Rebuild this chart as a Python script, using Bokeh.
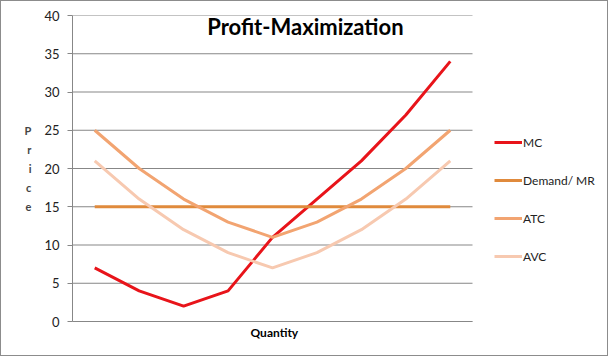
from bokeh.plotting import figure
from bokeh.models import Legend, LegendItem, Label, FixedTicker, Range1d, Title
from bokeh.embed import file_html
from bokeh.resources import INLINE

quantity = [1, 2, 3, 4, 5, 6, 7, 8, 9]
mc = [7, 4, 2, 4, 11, 16, 21, 27, 34]
demand_mr = [15, 15, 15, 15, 15, 15, 15, 15, 15]
atc = [25, 20, 16, 13, 11, 13, 16, 20, 25]
avc = [21, 16, 12, 9, 7, 9, 12, 16, 21]
y_ticks = [0, 5, 10, 15, 20, 25, 30, 35, 40]

FONT = "Lato"
X0, X1 = 0.5, 9.5  # category-axis extent

# frame spans 71..606 px so the legend can sit inside it; data area is 71..472
p = figure(width=608, height=356, output_backend="svg", toolbar_location=None,
           x_range=Range1d(X0, X0 + 9 * 535 / 400), y_range=Range1d(0, 40),
           min_border_left=71, min_border_right=2, min_border_top=14, min_border_bottom=36)
p.styles = {"border": "1px solid #8c8c8c"}
p.outline_line_color = None
p.background_fill_color = "white"
p.border_fill_color = "white"

p.xgrid.grid_line_color = None
p.ygrid.grid_line_color = None
p.segment(x0=[X0] * len(y_ticks), x1=[X1] * len(y_ticks), y0=y_ticks, y1=y_ticks,
          line_color="#878787", line_width=1)

p.yaxis.ticker = FixedTicker(ticks=y_ticks)
p.yaxis.axis_line_color = "#878787"
p.yaxis.major_tick_line_color = "#878787"
p.yaxis.major_tick_out = 5
p.yaxis.major_tick_in = 0
p.yaxis.minor_tick_line_color = None
p.yaxis.major_label_text_font = FONT
p.yaxis.major_label_text_font_size = "13px"
p.yaxis.major_label_text_color = "#222222"
p.yaxis.major_label_standoff = 8
p.yaxis.axis_label = "P\nr\ni\nc\ne"
p.yaxis.axis_label_orientation = "horizontal"
p.yaxis.axis_label_text_font = FONT
p.yaxis.axis_label_text_font_style = "bold"
p.yaxis.axis_label_text_font_size = "11px"
p.yaxis.axis_label_text_line_height = 1.45
p.yaxis.axis_label_standoff = 10

p.xaxis.bounds = (X0, X1)
p.xaxis.ticker = FixedTicker(ticks=[])
p.xaxis.axis_line_color = "#878787"
p.xaxis.major_tick_line_color = None
p.xaxis.minor_tick_line_color = None
p.xaxis.major_label_text_font_size = "0px"
p.xaxis.major_label_standoff = 0

r_mc = p.line(quantity, mc, line_color="#E8141A", line_width=3)
r_dm = p.line(quantity, demand_mr, line_color="#E08A3C", line_width=3)
r_atc = p.line(quantity, atc, line_color="#F2A471", line_width=3)
r_avc = p.line(quantity, avc, line_color="#F7C9B0", line_width=3)

legend = Legend(items=[
    LegendItem(label="MC", renderers=[r_mc]),
    LegendItem(label="Demand/ MR", renderers=[r_dm]),
    LegendItem(label="ATC", renderers=[r_atc]),
    LegendItem(label="AVC", renderers=[r_avc]),
], location=(422, 55), border_line_color=None, background_fill_alpha=0,
    label_text_font=FONT, label_text_font_size="12px", label_text_color="#222222",
    glyph_width=28, glyph_height=20, label_height=20, label_standoff=1,
    spacing=18, padding=0, margin=0)
p.add_layout(legend, "center")

title = Label(x=5.74, y=38.5, text="Profit-Maximization", text_font=FONT,
              text_font_style="bold", text_font_size="22px", text_align="center",
              text_baseline="middle", text_color="black")
p.add_layout(title)

x_title = Title(text="Quantity", align="left", offset=178, text_font=FONT,
                text_font_style="bold", text_font_size="12px", text_color="black",
                standoff=2)
p.add_layout(x_title, "below")

open("out.html", "w").write(file_html(p, INLINE))
